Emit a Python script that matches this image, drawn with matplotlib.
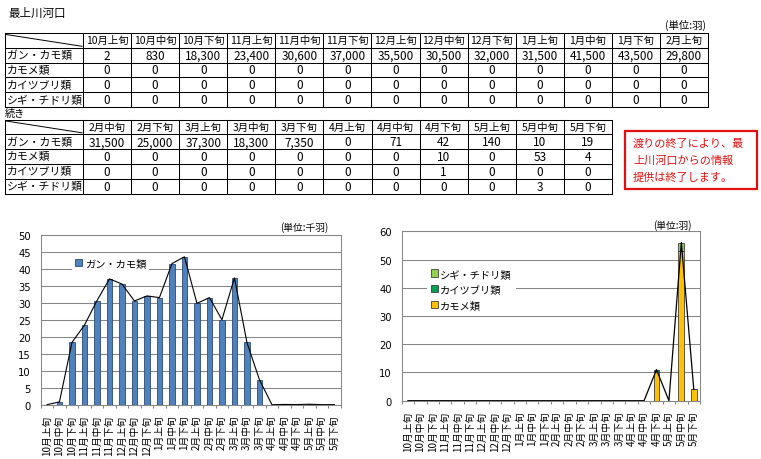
import matplotlib
matplotlib.use("Agg")
import matplotlib.pyplot as plt
from matplotlib.patches import Patch, Rectangle
import numpy as np

plt.rcParams['font.family'] = ['Noto Sans CJK JP', 'DejaVu Sans']

# ---------------- data ----------------
periods = ["10月上旬", "10月中旬", "10月下旬", "11月上旬", "11月中旬", "11月下旬",
           "12月上旬", "12月中旬", "12月下旬", "1月上旬", "1月中旬", "1月下旬",
           "2月上旬", "2月中旬", "2月下旬", "3月上旬", "3月中旬", "3月下旬",
           "4月上旬", "4月中旬", "4月下旬", "5月上旬", "5月中旬", "5月下旬"]
species = ["ガン・カモ類", "カモメ類", "カイツブリ類", "シギ・チドリ類"]
gan_kamo = [2, 830, 18300, 23400, 30600, 37000, 35500, 30500, 32000, 31500, 41500, 43500,
            29800, 31500, 25000, 37300, 18300, 7350, 0, 71, 42, 140, 10, 19]
kamome = [0] * 20 + [10, 0, 53, 4]
kaitsuburi = [0] * 20 + [1, 0, 0, 0]
shigi = [0] * 22 + [3, 0]
split = 13  # first table holds 13 periods, second holds the rest

title = "最上川河口"
unit_table = "(単位:羽)"
unit_left = "(単位:千羽)"
unit_right = "(単位:羽)"
cont_label = "続き"
notice = ["渡りの終了により、最", "上川河口からの情報", "提供は終了します。"]

W, H = 761, 460
fig = plt.figure(figsize=(W / 100, H / 100), dpi=100)
ov = fig.add_axes([0, 0, 1, 1])
ov.set_xlim(0, W)
ov.set_ylim(H, 0)
ov.axis('off')

LW = 0.75


def draw_table(x0, y0, firstw, colw, rowh, headers, rows):
    ncols = len(headers)
    nrows = len(rows) + 1
    x1 = x0 + firstw + ncols * colw
    for k in range(nrows + 1):
        y = y0 + k * rowh
        ov.plot([x0, x1], [y, y], color='black', lw=LW, solid_capstyle='projecting')
    xs = [x0] + [x0 + firstw + j * colw for j in range(ncols + 1)]
    for x in xs:
        ov.plot([x, x], [y0, y0 + nrows * rowh], color='black', lw=LW, solid_capstyle='projecting')
    ov.plot([x0 + 1, x0 + firstw - 1], [y0 + 1.5, y0 + rowh - 1.5], color='black', lw=0.7)
    for j, h in enumerate(headers):
        ov.text(x0 + firstw + (j + 0.5) * colw, y0 + 0.5 * rowh, h, ha='center', va='center',
                fontsize=7.5)
    for r, (lab, vals) in enumerate(rows):
        yc = y0 + (r + 1.5) * rowh
        ov.text(x0 + 1.5, yc, lab, ha='left', va='center', fontsize=7.8)
        for j, v in enumerate(vals):
            ov.text(x0 + firstw + (j + 0.5) * colw, yc, f"{v:,}", ha='center', va='center',
                    fontsize=8.5)


series = [gan_kamo, kamome, kaitsuburi, shigi]
ov.text(8, 13, title, ha='left', va='center', fontsize=8.3)
ov.text(706, 25, unit_table, ha='right', va='center', fontsize=7.5)
draw_table(5, 34, 78, 625 / 13, 14.8, periods[:split],
           [(s, v[:split]) for s, v in zip(species, series)])
ov.text(5, 114, cont_label, ha='left', va='center', fontsize=7.3)
draw_table(5, 120.5, 78, 529 / 11, 14.8, periods[split:],
           [(s, v[split:]) for s, v in zip(species, series)])

# notice box
ov.add_patch(Rectangle((625, 132), 132, 58, facecolor='white', edgecolor='#E01010', lw=1.6))
for i, line in enumerate(notice):
    ov.text(633, 144 + i * 17, line, ha='left', va='center', fontsize=8, color='#E01010')

GRID = '#868686'
x = np.arange(len(periods))


def style_axis(ax, ymax, ystep):
    ax.set_xlim(-0.5, len(periods) - 0.5)
    ax.set_ylim(0, ymax)
    ax.set_yticks(np.arange(0, ymax + 1, ystep))
    ax.set_xticks(x)
    ax.set_xticklabels(periods, rotation=90, fontsize=7, va='top', ha='center')
    ax.set_xticks(np.arange(-0.5, len(periods), 1), minor=True)
    ax.tick_params(axis='x', which='major', length=0, pad=7)
    ax.tick_params(axis='x', which='minor', length=2.5, color=GRID, width=0.75)
    ax.tick_params(axis='y', length=0, pad=7, labelsize=7.2)
    for lab in ax.get_yticklabels():
        lab.set_family('DejaVu Sans')
    ax.yaxis.grid(True, color=GRID, lw=0.75)
    ax.set_axisbelow(True)
    for sp in ax.spines.values():
        sp.set_color(GRID)
        sp.set_linewidth(0.75)


# ---------------- left chart ----------------
axL = fig.add_axes([40.7 / W, 1 - 405.7 / H, 300 / W, 170 / H])
gk_k = [v / 1000 for v in gan_kamo]
axL.bar(x, gk_k, width=0.45, color='#4F81BD', edgecolor='#2C4A73', lw=0.6, zorder=2,
        label=species[0])
axL.plot(x, gk_k, color='black', lw=0.8, zorder=2.2)
style_axis(axL, 50, 5)
axL.text(328 / W, 1 - 228 / H, unit_left, transform=fig.transFigure, ha='right', va='center',
         fontsize=7)
axL.legend(handles=[Patch(facecolor='#4F81BD', edgecolor='#2C4A73', lw=0.6)],
           labels=[species[0]], loc='upper left',
           bbox_to_anchor=(72 / W, 1 - 256 / H), bbox_transform=fig.transFigure,
           fontsize=7.4, frameon=True, fancybox=False, edgecolor='none', framealpha=1,
           handlelength=0.7, handleheight=0.7, handletextpad=0.25, borderpad=0.3,
           borderaxespad=0)

# ---------------- right chart ----------------
axR = fig.add_axes([401.7 / W, 1 - 401.7 / H, 298.3 / W, 169.4 / H])
c_kamome, c_kaitsu, c_shigi = '#FFC000', '#00A050', '#92D050'
axR.bar(x, kamome, width=0.48, color=c_kamome, edgecolor='#404040', lw=0.6, zorder=2)
bottom2 = np.array(kamome)
axR.bar(x, kaitsuburi, width=0.48, bottom=bottom2, color=c_kaitsu, edgecolor='#404040',
        lw=0.6, zorder=2)
bottom3 = bottom2 + np.array(kaitsuburi)
axR.bar(x, shigi, width=0.48, bottom=bottom3, color=c_shigi, edgecolor='#404040',
        lw=0.6, zorder=2)
total = bottom3 + np.array(shigi)
axR.plot(x, total, color='black', lw=0.9, zorder=2.2)
style_axis(axR, 60, 10)
axR.text(692 / W, 1 - 226 / H, unit_right, transform=fig.transFigure, ha='right', va='center',
         fontsize=7)
axR.legend(handles=[Patch(facecolor=c, edgecolor='#404040', lw=0.6)
                    for c in (c_shigi, c_kaitsu, c_kamome)],
           labels=[species[3], species[2], species[1]], loc='upper left',
           bbox_to_anchor=(427 / W, 1 - 266 / H), bbox_transform=fig.transFigure,
           fontsize=7.4, frameon=True, fancybox=False, edgecolor='none', framealpha=1,
           handlelength=0.7, handleheight=0.7, handletextpad=0.25, borderpad=0.35,
           borderaxespad=0, labelspacing=0.55)

fig.savefig("out.png", dpi=100)
